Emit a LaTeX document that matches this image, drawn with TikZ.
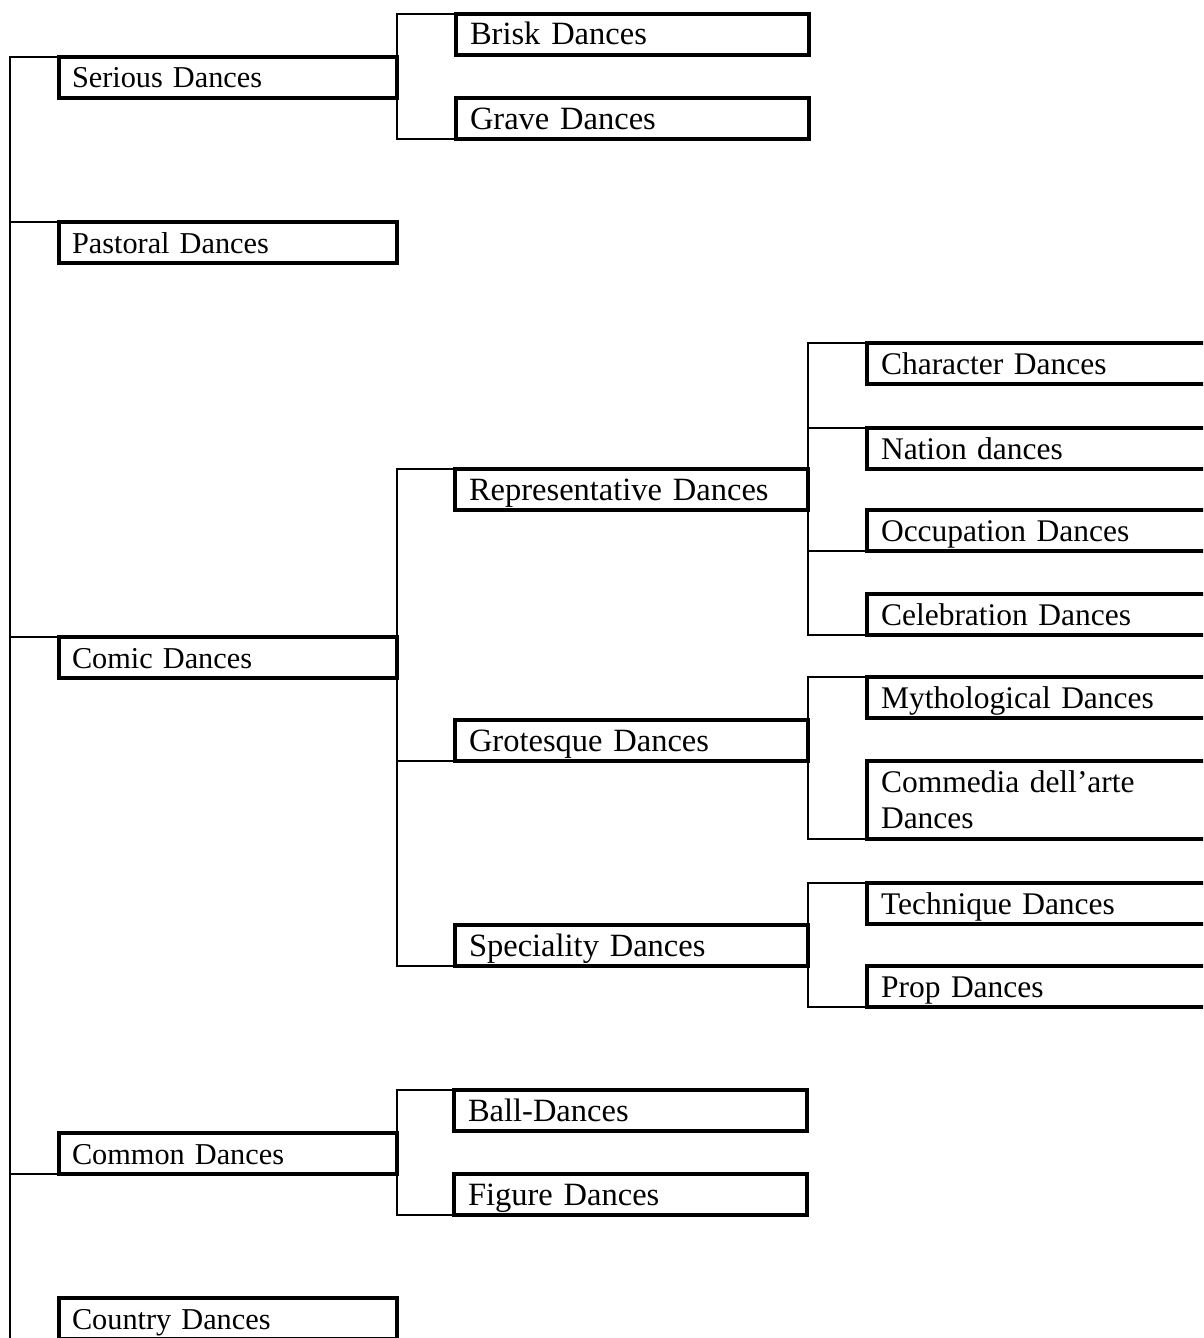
\documentclass[tikz,border=0pt]{standalone}
\usepackage{fontspec}
\setmainfont{Liberation Serif}
\begin{document}
\begin{tikzpicture}[x=1pt,y=-1pt,
  dbox/.style={draw, line width=3.5pt, outer sep=0pt, inner ysep=0pt,
    anchor=north west, align=left},
  oneline/.style={text height=31pt, text depth=10pt},
  lcol/.style={dbox, oneline, inner xsep=13pt, text width=312pt, font=\fontsize{30.3}{36}\selectfont},
  mcol/.style={dbox, oneline, inner xsep=14pt, text width=325pt, font=\fontsize{32.5}{36}\selectfont},
  rcol/.style={dbox, inner xsep=14pt, text width=335pt, font=\fontsize{31.5}{36}\selectfont},
  conn/.style={line width=2pt}]
\useasboundingbox (0,0) rectangle (1203,1338);
\clip (0,0) rectangle (1203,1338);
% left column
\node[lcol] (serious)  at (59,57)   {Serious Dances};
\node[lcol] (pastoral) at (59,222)  {Pastoral Dances};
\node[lcol] (comic)    at (59,637)  {Comic Dances};
\node[lcol] (common)   at (59,1133) {Common Dances};
\node[lcol] (country)  at (59,1298) {Country Dances};
% middle column
\node[mcol] (brisk) at (456,14)  {Brisk Dances};
\node[mcol] (grave) at (456,98)  {Grave Dances};
\node[mcol] (rep)   at (455,469) {Representative Dances};
\node[mcol] (grot)  at (455,720) {Grotesque Dances};
\node[mcol] (spec)  at (455,925) {Speciality Dances};
\node[mcol] (ball)  at (454,1090) {Ball-Dances};
\node[mcol] (fig)   at (454,1174) {Figure Dances};
% right column
\node[rcol, oneline] (char)   at (867,343) {Character Dances};
\node[rcol, oneline] (nation) at (867,428) {Nation dances};
\node[rcol, oneline] (occ)    at (867,510) {Occupation Dances};
\node[rcol, oneline] (celeb)  at (867,594) {Celebration Dances};
\node[rcol, oneline] (myth)   at (867,677) {Mythological Dances};
\node[rcol, minimum height=78pt] (comm) at (867,761) {Commedia dell’arte\\Dances};
\node[rcol, oneline] (tech)   at (867,883) {Technique Dances};
\node[rcol, oneline] (prop)   at (867,966) {Prop Dances};
% spine
\coordinate (sp) at (10,57);
\coordinate (spend) at (10,1345);
\draw[conn] (serious.north west) -- (sp) -- (spend);
\draw[conn] (sp) |- (pastoral.north west);
\draw[conn] (sp) |- (comic.north west);
\draw[conn] (sp) |- (common.south west);
% serious
\draw[conn] (serious.north east) |- (brisk.north west);
\draw[conn] (serious.south east) |- (grave.south west);
% comic
\draw[conn] (comic.north east) |- (rep.north west);
\draw[conn] (comic.south east) |- (grot.south west);
\draw[conn] (comic.south east) |- (spec.south west);
% representative
\draw[conn] (rep.north east) |- (char.north west);
\draw[conn] (rep.north east) |- (nation.north west);
\draw[conn] (rep.south east) |- (occ.south west);
\draw[conn] (rep.south east) |- (celeb.south west);
% grotesque
\draw[conn] (grot.north east) |- (myth.north west);
\draw[conn] (grot.south east) |- (comm.south west);
% speciality
\draw[conn] (spec.north east) |- (tech.north west);
\draw[conn] (spec.south east) |- (prop.south west);
% common
\draw[conn] (common.north east) |- (ball.north west);
\draw[conn] (common.south east) |- (fig.south west);
\end{tikzpicture}
\end{document}
